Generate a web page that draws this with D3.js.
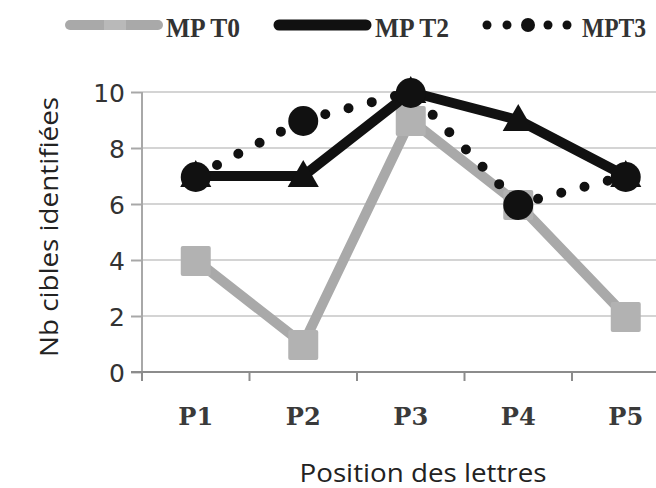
<!DOCTYPE html>
<html>
<head>
<meta charset="utf-8">
<script src="https://cdn.jsdelivr.net/npm/d3@7"></script>
<style>
  html, body { margin: 0; padding: 0; background: #fff; }
  svg { display: block; }
</style>
</head>
<body>
<svg id="chart" width="656" height="488"></svg>
<script>
// Number of identified targets per letter position, three conditions
const categories = ["P1", "P2", "P3", "P4", "P5"];
const mpT0 = [4, 1, 9, 6, 2];
const mpT2 = [7, 7, 10, 9, 7];
const mpT3 = [7, 9, 10, 6, 7];
const seriesNames = ["MP T0", "MP T2", "MPT3"];
const yTicks = [0, 2, 4, 6, 8, 10];

const svg = d3.select("#chart");

const x = d3.scaleBand().domain(categories).range([142, 679.5]);
const y = d3.scaleLinear().domain([0, 10]).range([372, 92]);
const cx = d => x(d) + x.bandwidth() / 2;

const gray = "#a9a9a9";
const black = "#111111";

// horizontal gridlines
svg.append("g").selectAll("line").data(yTicks.filter(t => t > 0)).join("line")
  .attr("x1", 142).attr("x2", 680)
  .attr("y1", d => y(d)).attr("y2", d => y(d))
  .attr("stroke", "#d4d4d4").attr("stroke-width", 2);

// y axis
const yAxis = svg.append("g").attr("transform", "translate(142,0)")
  .call(d3.axisLeft(y).tickValues(yTicks).tickSize(11).tickPadding(6).tickFormat(d3.format("d")));
yAxis.select(".domain").attr("stroke", "#a8a8a8").attr("stroke-width", 2)
  .attr("d", "M0,92V381");
yAxis.selectAll(".tick line").attr("stroke", "#a8a8a8").attr("stroke-width", 2);
yAxis.selectAll(".tick text")
  .attr("font-family", "DejaVu Sans").attr("font-size", 25).attr("fill", "#333")
  .attr("dy", "0.36em");

// x axis
const xAxis = svg.append("g").attr("transform", "translate(0,372)")
  .call(d3.axisBottom(x).tickSize(0).tickPadding(0));
xAxis.select(".domain").attr("stroke", "#8c8c8c").attr("stroke-width", 2)
  .attr("d", "M131,0H680");
xAxis.selectAll(".tick text").remove();
svg.append("g").selectAll("line").data(d3.range(categories.length + 1)).join("line")
  .attr("x1", i => 142 + i * x.bandwidth()).attr("x2", i => 142 + i * x.bandwidth())
  .attr("y1", 372).attr("y2", 381)
  .attr("stroke", "#8c8c8c").attr("stroke-width", 2);
svg.append("g").selectAll("text").data(categories).join("text")
  .attr("x", d => cx(d)).attr("y", 425)
  .attr("text-anchor", "middle")
  .attr("font-family", "DejaVu Serif").attr("font-weight", "bold")
  .attr("font-size", 25).attr("fill", "#3a3a3a")
  .attr("textLength", 35).attr("lengthAdjust", "spacingAndGlyphs")
  .text(d => d);

// axis titles
svg.append("text")
  .attr("x", 423).attr("y", 482)
  .attr("text-anchor", "middle")
  .attr("font-family", "Open Sans").attr("font-size", 25).attr("fill", "#222")
  .attr("textLength", 247).attr("lengthAdjust", "spacingAndGlyphs")
  .text("Position des lettres");
svg.append("text")
  .attr("transform", "translate(58,227) rotate(-90)")
  .attr("text-anchor", "middle")
  .attr("font-family", "Open Sans").attr("font-size", 25).attr("fill", "#222")
  .attr("textLength", 260).attr("lengthAdjust", "spacingAndGlyphs")
  .text("Nb cibles identifiées");

const line = d3.line().x((d, i) => cx(categories[i])).y(d => y(d));

// MP T0: gray line with squares
svg.append("path").datum(mpT0).attr("d", line)
  .attr("fill", "none").attr("stroke", gray).attr("stroke-width", 10)
  .attr("stroke-linejoin", "round");
svg.append("g").selectAll("rect").data(mpT0).join("rect")
  .attr("x", (d, i) => cx(categories[i]) - 15).attr("y", d => y(d) - 14)
  .attr("width", 30).attr("height", 30).attr("rx", 2)
  .attr("fill", "#b2b2b2");

// MP T2: black line with triangles
svg.append("path").datum(mpT2).attr("d", line)
  .attr("fill", "none").attr("stroke", black).attr("stroke-width", 10)
  .attr("stroke-linejoin", "round");
svg.append("g").selectAll("path").data(mpT2).join("path")
  .attr("d", d3.symbol(d3.symbolTriangle, 420))
  .attr("transform", (d, i) => `translate(${cx(categories[i])},${y(d) + 2})`)
  .attr("fill", black);

// MPT3: round-dotted line with circles
svg.append("path").datum(mpT3).attr("d", line)
  .attr("fill", "none").attr("stroke", black).attr("stroke-width", 10)
  .attr("stroke-linecap", "round").attr("stroke-dasharray", "0,24");
svg.append("g").selectAll("circle").data(mpT3).join("circle")
  .attr("cx", (d, i) => cx(categories[i])).attr("cy", d => y(d) + 1)
  .attr("r", 15).attr("fill", black);

// legend
const legend = svg.append("g");
legend.append("line").attr("x1", 70).attr("x2", 158).attr("y1", 25).attr("y2", 25)
  .attr("stroke", gray).attr("stroke-width", 10).attr("stroke-linecap", "round");
legend.append("rect").attr("x", 104).attr("y", 20).attr("width", 22).attr("height", 10)
  .attr("fill", "#b9b9b9");
legend.append("line").attr("x1", 279).attr("x2", 366).attr("y1", 25).attr("y2", 25)
  .attr("stroke", black).attr("stroke-width", 11).attr("stroke-linecap", "round");
legend.append("g").selectAll("circle").data([487, 507, 528, 548, 567]).join("circle")
  .attr("cx", d => d).attr("cy", 25).attr("r", (d, i) => i === 2 ? 7 : 4.5)
  .attr("fill", black);
legend.selectAll("text.lbl").data(seriesNames).join("text")
  .attr("class", "lbl")
  .attr("x", (d, i) => [166, 375, 582][i]).attr("y", 37)
  .attr("font-family", "Liberation Serif").attr("font-weight", "bold")
  .attr("font-size", 27).attr("fill", "#333")
  .attr("textLength", (d, i) => [74, 74, 64][i]).attr("lengthAdjust", "spacingAndGlyphs")
  .text(d => d);
</script>
</body>
</html>
